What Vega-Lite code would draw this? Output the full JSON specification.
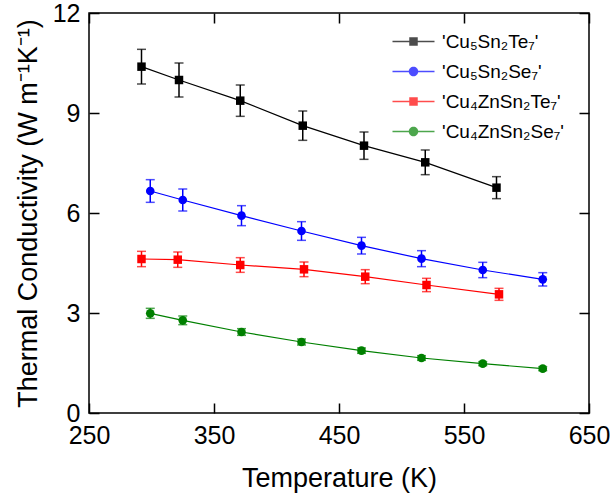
{
  "$schema": "https://vega.github.io/schema/vega-lite/v6.json",
  "width": 500,
  "height": 400,
  "autosize": {"type": "none"},
  "padding": {"left": 89, "top": 13, "right": 21, "bottom": 88},
  "background": "white",
  "config": {
    "view": {"stroke": "black", "strokeWidth": 1.5},
    "font": "Liberation Sans",
    "axis": {
      "domain": false,
      "ticks": false,
      "grid": true,
      "gridColor": "black",
      "gridOpacity": 1,
      "gridWidth": 1.5,
      "labelFont": "Liberation Sans",
      "labelFontSize": 25,
      "labelColor": "black",
      "titleFont": "Liberation Sans",
      "titleFontSize": 27,
      "titleFontWeight": "normal",
      "titleColor": "black",
      "labelOverlap": false,
      "labelFlush": false
    }
  },
  "data": {
    "values": [
      {"series": "'Cu₅Sn₂Te₇'", "T": 292, "k": 10.39, "err": 0.52},
      {"series": "'Cu₅Sn₂Te₇'", "T": 322, "k": 9.99, "err": 0.51},
      {"series": "'Cu₅Sn₂Te₇'", "T": 371, "k": 9.37, "err": 0.47},
      {"series": "'Cu₅Sn₂Te₇'", "T": 421, "k": 8.62, "err": 0.44},
      {"series": "'Cu₅Sn₂Te₇'", "T": 470, "k": 8.02, "err": 0.41},
      {"series": "'Cu₅Sn₂Te₇'", "T": 519, "k": 7.52, "err": 0.37},
      {"series": "'Cu₅Sn₂Te₇'", "T": 576, "k": 6.76, "err": 0.33},
      {"series": "'Cu₅Sn₂Se₇'", "T": 299, "k": 6.66, "err": 0.34},
      {"series": "'Cu₅Sn₂Se₇'", "T": 325, "k": 6.39, "err": 0.33},
      {"series": "'Cu₅Sn₂Se₇'", "T": 372, "k": 5.92, "err": 0.3},
      {"series": "'Cu₅Sn₂Se₇'", "T": 420, "k": 5.46, "err": 0.28},
      {"series": "'Cu₅Sn₂Se₇'", "T": 468, "k": 5.02, "err": 0.25},
      {"series": "'Cu₅Sn₂Se₇'", "T": 516, "k": 4.63, "err": 0.24},
      {"series": "'Cu₅Sn₂Se₇'", "T": 565, "k": 4.29, "err": 0.23},
      {"series": "'Cu₅Sn₂Se₇'", "T": 613, "k": 4.01, "err": 0.2},
      {"series": "'Cu₄ZnSn₂Te₇'", "T": 292, "k": 4.62, "err": 0.23},
      {"series": "'Cu₄ZnSn₂Te₇'", "T": 321, "k": 4.6, "err": 0.23},
      {"series": "'Cu₄ZnSn₂Te₇'", "T": 371, "k": 4.44, "err": 0.22},
      {"series": "'Cu₄ZnSn₂Te₇'", "T": 422, "k": 4.31, "err": 0.22},
      {"series": "'Cu₄ZnSn₂Te₇'", "T": 471, "k": 4.09, "err": 0.21},
      {"series": "'Cu₄ZnSn₂Te₇'", "T": 520, "k": 3.84, "err": 0.2},
      {"series": "'Cu₄ZnSn₂Te₇'", "T": 578, "k": 3.56, "err": 0.18},
      {"series": "'Cu₄ZnSn₂Se₇'", "T": 299, "k": 2.99, "err": 0.15},
      {"series": "'Cu₄ZnSn₂Se₇'", "T": 325, "k": 2.78, "err": 0.13},
      {"series": "'Cu₄ZnSn₂Se₇'", "T": 372, "k": 2.43, "err": 0.1},
      {"series": "'Cu₄ZnSn₂Se₇'", "T": 420, "k": 2.13, "err": 0.09},
      {"series": "'Cu₄ZnSn₂Se₇'", "T": 468, "k": 1.87, "err": 0.08},
      {"series": "'Cu₄ZnSn₂Se₇'", "T": 516, "k": 1.65, "err": 0.07},
      {"series": "'Cu₄ZnSn₂Se₇'", "T": 565, "k": 1.48, "err": 0.06},
      {"series": "'Cu₄ZnSn₂Se₇'", "T": 613, "k": 1.33, "err": 0.06}
    ]
  },
  "resolve": {"axis": {"x": "independent", "y": "independent"}},
  "layer": [
    {
      "mark": {"type": "line", "strokeWidth": 1.2},
      "encoding": {
        "x": {
          "field": "T", "type": "quantitative",
          "scale": {"domain": [250, 650], "nice": false, "zero": false},
          "axis": {
            "orient": "bottom",
            "title": "Temperature (K)",
            "values": [250, 350, 450, 550, 650],
            "gridDash": [10, 380],
            "labelPadding": 10,
            "titlePadding": 17
          }
        },
        "y": {
          "field": "k", "type": "quantitative",
          "scale": {"domain": [0, 12], "nice": false},
          "axis": {
            "orient": "left",
            "title": "Thermal Conductivity (W m⁻¹K⁻¹)",
            "values": [0, 3, 6, 9, 12],
            "gridDash": [10, 480],
            "labelPadding": 9,
            "titlePadding": 10
          }
        },
        "color": {
          "field": "series", "type": "nominal",
          "scale": {
            "domain": ["'Cu₅Sn₂Te₇'", "'Cu₅Sn₂Se₇'", "'Cu₄ZnSn₂Te₇'", "'Cu₄ZnSn₂Se₇'"],
            "range": ["#000000", "#0000ff", "#ff0000", "#008000"]
          }
        }
      }
    },
    {
      "mark": {"type": "errorbar", "ticks": true, "size": 9, "thickness": 1.5},
      "encoding": {
        "x": {"field": "T", "type": "quantitative", "axis": null},
        "y": {"field": "k", "type": "quantitative", "axis": null},
        "yError": {"field": "err"},
        "color": {"field": "series", "type": "nominal"}
      }
    },
    {
      "transform": [{"filter": "indexof(datum.series, 'Te') >= 0"}],
      "mark": {"type": "square", "size": 72, "opacity": 1},
      "encoding": {
        "x": {"field": "T", "type": "quantitative", "axis": null},
        "y": {"field": "k", "type": "quantitative", "axis": null},
        "color": {"field": "series", "type": "nominal"}
      }
    },
    {
      "transform": [{"filter": "indexof(datum.series, 'Se') >= 0"}],
      "mark": {"type": "circle", "size": 75, "opacity": 1},
      "encoding": {
        "x": {
          "field": "T", "type": "quantitative",
          "axis": {"orient": "bottom", "title": null, "labels": false, "values": [270, 290, 310, 330, 370, 390, 410, 430, 470, 490, 510, 530, 570, 590, 610, 630], "gridDash": [5, 390]}
        },
        "y": {
          "field": "k", "type": "quantitative",
          "axis": {"orient": "left", "title": null, "labels": false, "values": [1, 2, 4, 5, 7, 8, 10, 11], "gridDash": [5, 490]}
        },
        "color": {"field": "series", "type": "nominal"}
      }
    },
    {
      "transform": [{"filter": "false"}],
      "mark": {"type": "point", "filled": true, "size": 100, "opacity": 1},
      "encoding": {
        "color": {
          "field": "series", "type": "nominal",
          "legend": {
            "title": null,
            "orient": "none",
            "legendX": 315,
            "legendY": 19,
            "padding": 0,
            "symbolSize": 100,
            "symbolStrokeWidth": 0,
            "labelFont": "Liberation Sans",
            "labelFontSize": 19,
            "labelColor": "black",
            "labelOffset": 19,
            "labelLimit": 300,
            "rowPadding": 10
          }
        },
        "shape": {
          "field": "series", "type": "nominal",
          "scale": {
            "domain": ["'Cu₅Sn₂Te₇'", "'Cu₅Sn₂Se₇'", "'Cu₄ZnSn₂Te₇'", "'Cu₄ZnSn₂Se₇'"],
            "range": [
              "M-4.2,-0.13H4.2V0.13H-4.2Z M-0.85,-0.85H0.85V0.85H-0.85Z",
              "M-4.2,-0.13H4.2V0.13H-4.2Z M-0.95,0A0.95,0.95 0 1,1 0.95,0A0.95,0.95 0 1,1 -0.95,0Z",
              "M-4.2,-0.13H4.2V0.13H-4.2Z M-0.85,-0.85H0.85V0.85H-0.85Z",
              "M-4.2,-0.13H4.2V0.13H-4.2Z M-0.95,0A0.95,0.95 0 1,1 0.95,0A0.95,0.95 0 1,1 -0.95,0Z"
            ]
          },
          "legend": {
            "title": null,
            "orient": "none",
            "legendX": 315,
            "legendY": 19,
            "padding": 0,
            "symbolSize": 100,
            "symbolStrokeWidth": 0,
            "labelFont": "Liberation Sans",
            "labelFontSize": 19,
            "labelColor": "black",
            "labelOffset": 19,
            "labelLimit": 300,
            "rowPadding": 10
          }
        }
      }
    }
  ]
}
